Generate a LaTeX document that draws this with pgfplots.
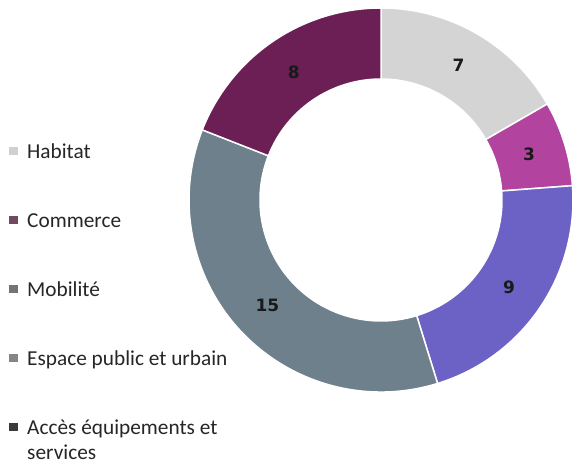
\documentclass[border=0pt]{standalone}
\usepackage{pgfplots}
\pgfplotsset{compat=1.18}
\usepackage{pgfplotstable}
\usepackage{fontspec}
\setmainfont{Carlito}
\newfontfamily\labelfont{DejaVu Sans}

\definecolor{slice0}{HTML}{D4D4D4} % Habitat
\definecolor{slice1}{HTML}{B2449F} % Commerce
\definecolor{slice2}{HTML}{6C62C6} % Mobilite
\definecolor{slice3}{HTML}{6E808C} % Espace public
\definecolor{slice4}{HTML}{6B1F55} % Acces equipements
% legend markers (as in the picture)
\definecolor{leg0}{HTML}{D0D0D0}
\definecolor{leg1}{HTML}{73495D}
\definecolor{leg2}{HTML}{747474}
\definecolor{leg3}{HTML}{858585}
\definecolor{leg4}{HTML}{3A3A3A}

\pgfplotstableread{
value
7
3
9
15
8
}\donutdata

\begin{document}
\begin{tikzpicture}[vlabel/.style={font=\labelfont\bfseries\fontsize{17bp}{20bp}\selectfont, text=black!90}]
\useasboundingbox (0,0) rectangle (573bp,468bp);
\begin{axis}[
  at={(0,0)}, anchor=south west,
  x=1bp, y=1bp,
  xmin=0, xmax=573, ymin=0, ymax=468,
  hide axis, clip=false,
  legend cell align=left,
  legend image code/.code={%
    \path[draw=none,fill=none] (0bp,0bp) -- (18bp,0bp);
    \fill[#1, draw=none] (0bp,3bp) rectangle (9bp,11bp);},
  legend style={
    at={(0.0157,0.6944)}, anchor=north west,
    draw=none, fill=none, inner sep=0pt,
    row sep=49bp, column sep=0pt,
    font=\fontsize{21.3bp}{25bp}\selectfont, text=black!85,
    nodes={inner sep=0pt, text height=15bp, text depth=5bp, anchor=base west},
  },
]
\pgfmathsetmacro\total{0}
\pgfplotsforeachungrouped \i in {0,...,4}{%
  \pgfplotstablegetelem{\i}{value}\of\donutdata
  \pgfmathsetmacro\total{\total+\pgfplotsretval}
}
\pgfmathsetmacro\cum{0}
\pgfplotsforeachungrouped \i in {0,...,4}{%
  \pgfplotstablegetelem{\i}{value}\of\donutdata
  \let\v=\pgfplotsretval
  \pgfmathsetmacro\sa{90-\cum*360/\total}
  \pgfmathsetmacro\ea{90-(\cum+\v)*360/\total}
  \pgfmathsetmacro\ma{(\sa+\ea)/2}
  \pgfmathsetmacro\xa{381+192*cos(\sa)}
  \pgfmathsetmacro\ya{268+192*sin(\sa)}
  \pgfmathsetmacro\xb{381+121*cos(\ea)}
  \pgfmathsetmacro\yb{268+121*sin(\ea)}
  \pgfmathsetmacro\xm{381+155*cos(\ma)}
  \pgfmathsetmacro\ym{268+155*sin(\ma)}
  \edef\slice{%
    \noexpand\fill[fill=slice\i, draw=white, line width=1.5bp]
      (axis cs:\xa,\ya) arc[start angle=\sa, end angle=\ea, radius=192bp]
      -- (axis cs:\xb,\yb) arc[start angle=\ea, end angle=\sa, radius=121bp] -- cycle;
    \noexpand\node[vlabel] at (axis cs:\xm,\ym) {\v};}
  \slice
  \pgfmathsetmacro\cum{\cum+\v}
}
\addlegendimage{fill=leg0}
\addlegendentry{Habitat}
\addlegendimage{fill=leg1}
\addlegendentry{Commerce}
\addlegendimage{fill=leg2}
\addlegendentry{Mobilité}
\addlegendimage{fill=leg3}
\addlegendentry{Espace public et urbain}
\addlegendimage{fill=leg4}
\addlegendentry{\begin{tabular}[t]{@{}l@{}}Accès équipements et\\services\end{tabular}}
\end{axis}
\end{tikzpicture}
\end{document}
